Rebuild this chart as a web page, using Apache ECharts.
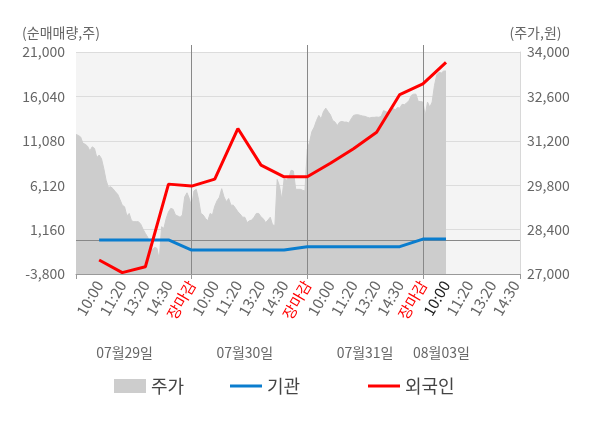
<!DOCTYPE html>
<html>
<head>
<meta charset="utf-8">
<script src="https://cdn.jsdelivr.net/npm/echarts@6/dist/echarts.min.js"></script>
<style>
html, body { margin: 0; padding: 0; background: #fff; }
#main { width: 600px; height: 428px; }
</style>
</head>
<body>
<div id="main"></div>
<script>
// x labels of one trading day and the dates
var timeLabels = ['10:00', '11:20', '13:20', '14:30', '장마감'];
var dates = ['07월29일', '07월30일', '07월31일', '08월03일'];

// price (원), fine steps from day 1 open to 08/03 10:00
var price = [
	31400, 31370, 31320, 31120, 31090, 31030, 30880, 31010, 30960, 30670,
	30750, 30640, 30330, 29960, 29730, 29750, 29690, 29590, 29520, 29350,
	29170, 29120, 28830, 28910, 28680, 28650, 28650, 28650, 28570, 28410,
	28280, 28160, 27970, 27760, 27840, 27810, 27460, 28490, 28440, 28750,
	28960, 29070, 29040, 28860, 28830, 28790, 28860, 29430, 29560, 29380,
	29120,
	29620, 29670, 29350, 28910, 28860, 28750, 28680, 28910, 28860, 29140,
	29310, 29420, 29690, 29430, 29280, 29380, 29170, 29170, 29070, 28960,
	28890, 28790, 28790, 28620, 28680, 28700, 28790, 28910, 28910, 28800,
	28740, 28620, 28700, 28790, 28550, 28530, 29980, 29770, 29350, 30000,
	29960, 30040, 30270, 30250, 29670, 29670, 29670, 29640, 29620, 30930,
	31160, 31490, 31630, 31840, 32000, 31890, 32120, 32230, 32120, 32020,
	31840, 31790, 31680, 31790, 31810, 31790, 31790, 31760, 31890, 32000,
	32020, 32020, 32000, 31980, 31970, 31940, 31920, 31940, 31940, 31950,
	31940, 31980, 32150, 32120, 32080, 32230, 32240, 32170, 32250, 32230,
	32350, 32340, 32390, 32470, 32630, 32670, 32670, 32440, 32440, 32420,
	32000, 32420, 32260, 32420, 32940, 33280, 33360, 33340, 33400, 33400
];

// net buying (주) at each label time, 07/29 10:00 .. 08/03 10:00
var inst = [0, 0, 0, 0, -1120, -1120, -1120, -1120, -1120, -750, -750, -750, -750, -750, 100, 100];
var foreign = [-2240, -3650, -2990, 6240, 6020, 6800, 12450, 8360, 7060, 7060, 8580, 10200, 12040, 16250, 17430, 19850];

var leftTicks = [-3800, 1160, 6120, 11080, 16040, 21000];
var rightTicks = [27000, 28400, 29800, 31200, 32600, 34000];

// axis layout: 10 steps per label slot, 5 slots per day
var step = 10;
var perDay = 50;
var axisLen = 193;
var dateAt = [21, 73, 125, 158];

var cats = [];
for (var i = 0; i < axisLen; i++) cats.push(String(i));

var tickText = {};
for (var d = 0; d < dates.length; d++) {
	for (var s = 0; s < timeLabels.length; s++) {
		var idx = d * perDay + (s + 1) * step;
		if (idx < axisLen) tickText[idx] = timeLabels[s];
	}
}
var dateText = {};
dates.forEach(function(t, k) { dateText[dateAt[k]] = t; });

var lastIdx = price.length - 1;
var separators = [];
for (var j = perDay; j < axisLen - 1; j += perDay) separators.push(j);

function fmt(v) { return Number(v).toLocaleString('en-US'); }
function atSlots(arr) { return arr.map(function(v, k) { return [(k + 1) * step, v]; }); }

var myChart = echarts.init(document.getElementById('main'));
var option = {
	animation: false,
	textStyle: { fontFamily: 'Noto Sans CJK KR' },
	grid: {
		left: 76, right: 80, top: 52, bottom: 154,
		show: true, backgroundColor: '#f4f4f4', borderWidth: 0
	},
	legend: [{
		data: ['주가'], left: 114, top: 377, padding: 0, selectedMode: false,
		icon: 'rect', itemWidth: 32, itemHeight: 14,
		textStyle: { fontSize: 18, color: '#444' }
	}, {
		data: ['기관'], left: 230, top: 377, padding: 0, selectedMode: false,
		icon: 'rect', itemWidth: 32, itemHeight: 3,
		textStyle: { fontSize: 18, color: '#444' }
	}, {
		data: ['외국인'], left: 368, top: 377, padding: 0, selectedMode: false,
		icon: 'rect', itemWidth: 32, itemHeight: 3,
		textStyle: { fontSize: 18, color: '#444' }
	}],
	xAxis: [{
		type: 'category', data: cats, boundaryGap: false, position: 'bottom',
		axisLine: { onZero: false, lineStyle: { color: '#999' } },
		axisTick: {
			interval: function(i) { return i % perDay === 0 || i === axisLen - 1; },
			length: 5, lineStyle: { color: '#999' }
		},
		axisLabel: {
			interval: function(i) { return tickText[i] !== undefined; },
			rotate: 60, margin: 8, fontSize: 15, color: '#666',
			formatter: function(v) {
				var i = Number(v);
				var t = tickText[i];
				if (t === undefined) return '';
				if (t === '장마감') return '{close|' + t + '}';
				if (i === lastIdx) return '{now|' + t + '}';
				return t;
			},
			rich: {
				close: { color: '#ff0000', fontSize: 15 },
				now: { color: '#222', fontSize: 15 }
			}
		},
		splitLine: { show: false }
	}, {
		type: 'category', data: cats, boundaryGap: false, position: 'bottom', offset: 64,
		axisLine: { show: false, onZero: false },
		axisTick: { show: false },
		axisLabel: {
			interval: function(i) { return dateText[i] !== undefined; },
			margin: 8, fontSize: 14, color: '#666',
			formatter: function(v) { return dateText[Number(v)] || ''; }
		},
		splitLine: { show: false }
	}, {
		type: 'category', data: cats, boundaryGap: false, position: 'top',
		axisLine: { show: false, onZero: false },
		axisTick: {
			interval: function(i) { return separators.indexOf(i) >= 0; },
			length: 7, lineStyle: { color: '#888' }
		},
		axisLabel: { show: false },
		splitLine: { show: false }
	}],
	yAxis: [{
		type: 'value', position: 'left', min: -3800, max: 21000,
		name: '(순매매량,주)', nameLocation: 'end', nameGap: 12,
		nameTextStyle: { fontSize: 14, color: '#666', align: 'center', padding: [0, 30, 0, 0] },
		axisLine: { show: false },
		axisTick: { show: false, customValues: leftTicks },
		axisLabel: { customValues: leftTicks, formatter: fmt, fontSize: 14, color: '#666', margin: 11 },
		splitLine: { show: true, lineStyle: { color: '#dcdcdc', width: 1 } }
	}, {
		type: 'value', position: 'right', min: 27000, max: 34000,
		name: '(주가,원)', nameLocation: 'end', nameGap: 12,
		nameTextStyle: { fontSize: 14, color: '#666', align: 'center', padding: [0, 0, 0, 31] },
		axisLine: { show: true, lineStyle: { color: '#d8d8d8' } },
		axisTick: { show: false, customValues: rightTicks },
		axisLabel: { customValues: rightTicks, formatter: fmt, fontSize: 14, color: '#666', margin: 7 },
		splitLine: { show: false }
	}],
	series: [{
		name: '주가', type: 'line', xAxisIndex: 0, yAxisIndex: 1,
		data: price, symbol: 'none', silent: true, z: 2,
		lineStyle: { width: 1, color: '#cdcdcd' },
		itemStyle: { color: '#cdcdcd' },
		areaStyle: { color: '#cdcdcd', opacity: 1 },
		markLine: {
			silent: true, symbol: ['none', 'none'], label: { show: false },
			lineStyle: { color: '#888', width: 1, type: 'solid' },
			data: separators.map(function(i) { return { xAxis: i }; })
		}
	}, {
		name: '기관', type: 'line', xAxisIndex: 0, yAxisIndex: 0,
		data: atSlots(inst), symbol: 'none', z: 6,
		lineStyle: { width: 3, color: '#0a7dce' },
		itemStyle: { color: '#0a7dce' },
		markLine: {
			silent: true, symbol: ['none', 'none'], label: { show: false },
			lineStyle: { color: '#888', width: 1, type: 'solid' },
			data: [{ yAxis: 0 }]
		}
	}, {
		name: '외국인', type: 'line', xAxisIndex: 0, yAxisIndex: 0,
		data: atSlots(foreign), symbol: 'none', z: 7,
		lineStyle: { width: 3, color: '#ff0000' },
		itemStyle: { color: '#ff0000' }
	}]
};
myChart.setOption(option);
</script>
</body>
</html>
